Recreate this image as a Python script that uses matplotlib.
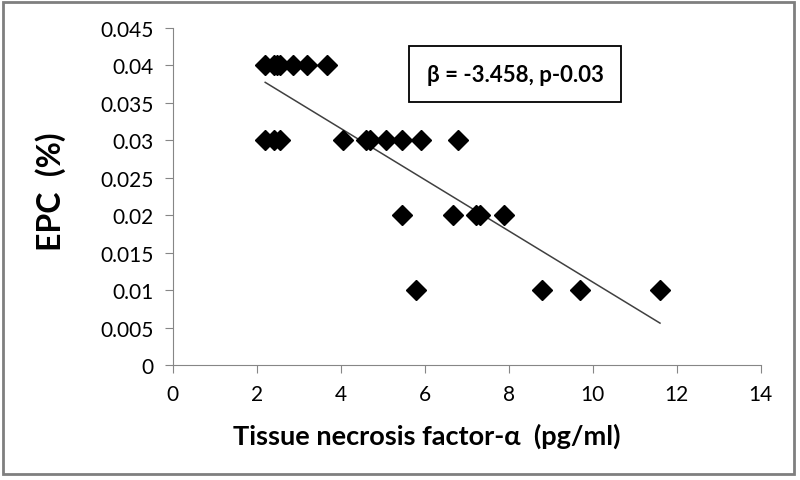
import numpy as np
import matplotlib

matplotlib.use('Agg')
import matplotlib.pyplot as plt
from matplotlib.patches import Rectangle

# данные
tnf = [2.2, 2.4, 2.47, 2.55, 2.87, 3.2, 3.68,
       2.2, 2.4, 2.55, 4.05, 4.6, 4.7, 5.08, 5.46, 5.9, 6.78,
       5.46, 6.68, 7.22, 7.32, 7.88,
       5.8, 8.78, 9.7, 11.6]
epc = [0.04] * 7 + [0.03] * 10 + [0.02] * 5 + [0.01] * 4
x_ticks = [0, 2, 4, 6, 8, 10, 12, 14]
y_ticks = [0, 0.005, 0.01, 0.015, 0.02, 0.025, 0.03, 0.035, 0.04, 0.045]
y_tick_labels = ['0', '0.005', '0.01', '0.015', '0.02', '0.025', '0.03', '0.035', '0.04', '0.045']

plt.rcParams['font.family'] = ['Lato', 'DejaVu Sans']

fig = plt.figure(figsize=(8, 4.81), dpi=100)
ax = fig.add_axes([0.216, 0.239, 0.735, 0.701])

ax.plot(tnf, epc, 'D', color='black', markersize=10, zorder=3)

# линия тренда (метод наименьших квадратов)
k, b = np.polyfit(tnf, epc, 1)
xs = np.array([min(tnf), max(tnf)])
ax.plot(xs, k * xs + b, color='#404040', linewidth=1.1)

ax.set_xlim(0, 14)
ax.set_ylim(0, 0.045)
ax.set_xticks(x_ticks)
ax.set_yticks(y_ticks)
ax.set_yticklabels(y_tick_labels)

for s in ['top', 'right']:
    ax.spines[s].set_visible(False)
for s in ['left', 'bottom']:
    ax.spines[s].set_color('#868686')
ax.tick_params(direction='out', length=6, color='#868686', labelsize=15, pad=8)

ax.set_xlabel('Tissue necrosis factor-α  (pg/ml)', fontsize=19.5, fontweight='bold')
ax.xaxis.set_label_coords((427 - 173) / 588, -(424 - 366) / 337)
ax.set_ylabel('EPC  (%)', fontsize=23, fontweight='bold')
ax.yaxis.set_label_coords(-(173 - 66) / 588, (366 - 192) / 337)

ax.text(0.432, 0.863, 'β = -3.458, p-0.03', transform=ax.transAxes, fontsize=16,
        fontweight='bold', va='center', ha='left',
        bbox=dict(boxstyle='square,pad=0.8', facecolor='white', edgecolor='black', linewidth=1.3))

fig.patches.append(Rectangle((0.004, 0.012), 0.988, 0.981, transform=fig.transFigure,
                             fill=False, edgecolor='#7f7f7f', linewidth=2))

fig.savefig('out.png', dpi=100)
